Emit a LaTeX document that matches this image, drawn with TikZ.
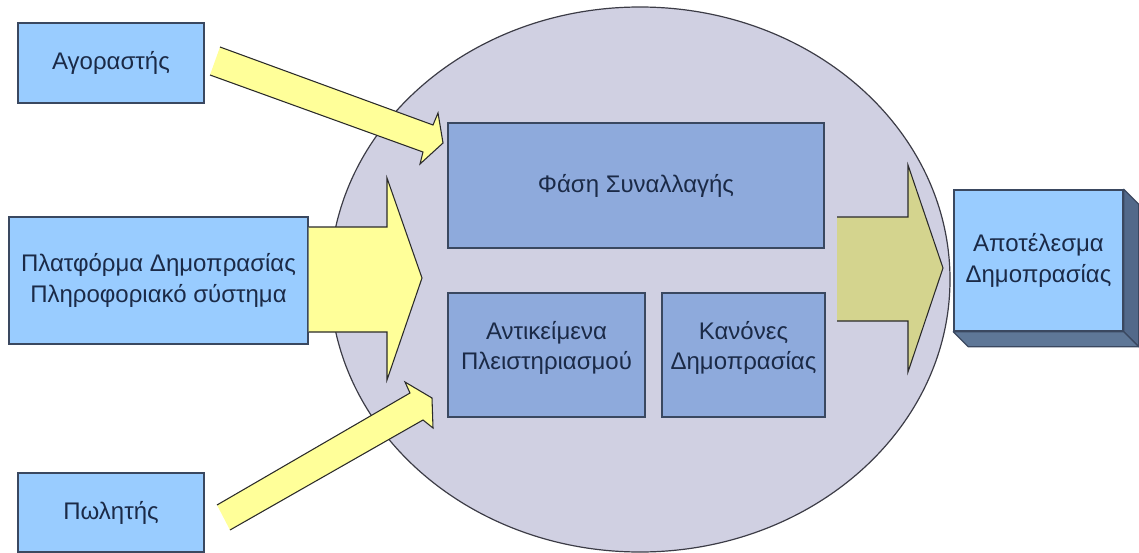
\documentclass[tikz,border=0pt]{standalone}
\usepackage{fontspec}
\setmainfont{Liberation Sans}
\usetikzlibrary{shapes.geometric,calc}

\definecolor{boxblue}{HTML}{99CCFF}
\definecolor{innerblue}{HTML}{8EAADC}
\definecolor{boxline}{HTML}{3A4860}
\definecolor{hubfill}{HTML}{D0D0E2}
\definecolor{hubline}{HTML}{3C3C46}
\definecolor{flowyellow}{HTML}{FFFF99}
\definecolor{flowkhaki}{HTML}{D4D48E}
\definecolor{arrowline}{HTML}{2A2A2A}
\definecolor{txtcol}{HTML}{1B2A47}
\definecolor{sideright}{HTML}{52698A}
\definecolor{sidebottom}{HTML}{5E7797}

\begin{document}
\begin{tikzpicture}[x=0.75pt,y=-0.75pt,
  lbl/.style={font=\fontsize{18}{22.8}\selectfont, text=txtcol, align=center},
  actor/.style={lbl, draw=boxline, line width=1.1pt, fill=boxblue, inner sep=0pt},
  part/.style={lbl, draw=boxline, line width=1.1pt, fill=innerblue, inner sep=0pt},
  hub/.style={ellipse, draw=hubline, line width=0.9pt, fill=hubfill, inner sep=0pt},
  flowfill/.style={fill=flowyellow},
  flowedge/.style={draw=arrowline, line width=0.8pt, line join=miter},
  side/.style={draw=boxline, line width=0.9pt, line join=round}]

\useasboundingbox (0,0) rectangle (1139,553);

% central auction area
\node[hub, minimum width=465pt, minimum height=408.75pt] (hub) at (640,279.5) {};

% participants and platform
\node[actor, minimum width=139.5pt, minimum height=60pt] (buyer) at (111,63) {Αγοραστής};
\node[actor, minimum width=224.25pt, minimum height=95.25pt] (platform) at (158.5,280.5)
  {Πλατφόρμα Δημοπρασίας\\Πληροφοριακό σύστημα};
\node[actor, minimum width=139.5pt, minimum height=59.25pt] (seller) at (111,512.5) {Πωλητής};

% parts of the auction
\node[part, minimum width=282pt, minimum height=93.75pt] (phase) at (636,185.5) {Φάση Συναλλαγής};
\node[part, minimum width=147.75pt, minimum height=93pt, text depth=14pt] (items) at (546.5,355)
  {Αντικείμενα\\Πλειστηριασμού};
\node[part, minimum width=122.25pt, minimum height=93pt, text depth=14pt] (rules) at (743.5,355)
  {Κανόνες\\Δημοπρασίας};

% result box with depth
\node[actor, minimum width=126.75pt, minimum height=105.75pt] (result) at (1038.5,260.5)
  {Αποτέλεσμα\\Δημοπρασίας};
\filldraw[side, fill=sideright] (result.north east) -- ++(15,15)
  -- ($(result.south east)+(15,15)$) -- (result.south east) -- cycle;
\filldraw[side, fill=sidebottom] (result.south west) -- (result.south east)
  -- ($(result.south east)+(15,15)$) -- ($(result.south west)+(15,15)$) -- cycle;

% buyer -> transaction phase
\fill[flowfill] (220,47) -- (433,125) -- (438,113) -- (443,143) -- (420,164)
  -- (423,152) -- (210,75) -- cycle;
\draw[flowedge] (220,47) -- (433,125) -- (438,113) -- (443,143) -- (420,164)
  -- (423,152) -- (210,75);

% seller -> auctioned items
\fill[flowfill] (217,505) -- (410,393) -- (405,382) -- (432,398) -- (433,428)
  -- (423,420) -- (230,530) -- cycle;
\draw[flowedge] (217,505) -- (410,393) -- (405,382) -- (432,398) -- (433,428)
  -- (423,420) -- (230,530);

% platform -> auction
\fill[flowfill] (platform.east |- 0,227) -- (387,227) -- (387,178) -- (422,278)
  -- (387,380) -- (387,332) -- (platform.east |- 0,332) -- cycle;
\draw[flowedge] (platform.east |- 0,227) -- (387,227) -- (387,178) -- (422,278)
  -- (387,380) -- (387,332) -- (platform.east |- 0,332);

% auction -> result
\fill[flowkhaki] (837,217) -- (908,217) -- (908,165) -- (943,268)
  -- (908,372) -- (908,321) -- (837,321) -- cycle;
\draw[flowedge] (837,217) -- (908,217) -- (908,165) -- (943,268)
  -- (908,372) -- (908,321) -- (837,321);

\end{tikzpicture}
\end{document}
